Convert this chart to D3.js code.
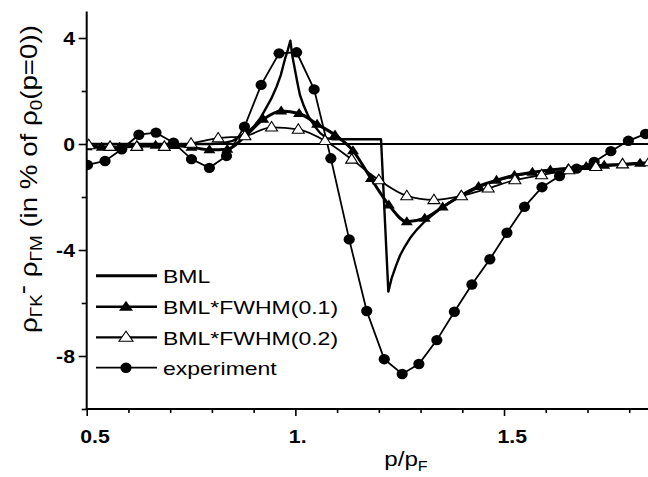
<!DOCTYPE html>
<html>
<head>
<meta charset="utf-8">
<script src="https://cdn.jsdelivr.net/npm/d3@7/dist/d3.min.js"></script>
<style>
  body { margin: 0; background: #fff; }
  svg { display: block; }
  text { font-family: "Liberation Sans", Arial, sans-serif; fill: #000; }
</style>
</head>
<body>
<svg id="chart" width="648" height="477"></svg>
<script>
// ---- data ----
const xTicksMajor = [0.5, 1.0, 1.5];
const xTickLabels = ["0.5", "1.", "1.5"];
const xTicksMinor = [0.6, 0.7, 0.8, 0.9, 1.1, 1.2, 1.3, 1.4, 1.6, 1.7, 1.8];
const yTicksMajor = [-8, -4, 0, 4];
const yTickLabels = ["-8", "-4", "0", "4"];
const yTicksMinor = [-10, -6, -2, 2];

const legendNames = ["BML", "BML*FWHM(0.1)", "BML*FWHM(0.2)", "experiment"];

// BML (no broadening)
const bmlX = [0.5, 0.7, 0.8, 0.827, 0.85, 0.867, 0.885, 0.9, 0.915, 0.927, 0.942, 0.955, 0.965, 0.975, 0.982, 0.988,
  0.993, 0.999, 1.005, 1.011, 1.02, 1.031, 1.045, 1.059, 1.075, 1.09, 1.2053, 1.2228, 1.231, 1.241, 1.251, 1.263,
  1.275, 1.29, 1.307, 1.327, 1.347, 1.37, 1.4, 1.44, 1.48, 1.53, 1.57, 1.61, 1.65, 1.7, 1.75, 1.8, 1.845];
const bmlY = [0, 0, 0, 0.03, 0.12, 0.28, 0.45, 0.65, 0.95, 1.28, 1.7, 2.16, 2.6, 3.2, 3.55, 3.9,
  3.3, 2.8, 2.3, 1.85, 1.45, 1.05, 0.7, 0.42, 0.22, 0.18, 0.18, -5.57, -5.05, -4.6, -4.2, -3.85,
  -3.55, -3.25, -2.97, -2.7, -2.45, -2.2, -1.95, -1.62, -1.38, -1.18, -1.07, -0.98, -0.92, -0.86, -0.81, -0.77, -0.73];

// BML convoluted with FWHM 0.1
const fw1X = [0.5, 0.536, 0.579, 0.622, 0.665, 0.708, 0.751, 0.794, 0.837, 0.88, 0.923, 0.966, 1.009, 1.052, 1.095,
  1.138, 1.181, 1.224, 1.267, 1.31, 1.353, 1.396, 1.439, 1.482, 1.525, 1.568, 1.611, 1.654, 1.697, 1.74, 1.783, 1.826];
const fw1Y = [-0.1, -0.12, -0.12, -0.08, -0.05, -0.06, -0.12, -0.22, -0.2, 0.3, 0.93, 1.25, 1.15, 0.75, 0.34,
  -0.25, -1.3, -2.3, -2.93, -2.8, -2.38, -1.95, -1.6, -1.37, -1.18, -1.07, -0.98, -0.92, -0.85, -0.8, -0.77, -0.73];

// BML convoluted with FWHM 0.2
const fw2X = [0.505, 0.556, 0.62, 0.686, 0.75, 0.815, 0.879, 0.943, 1.007, 1.071, 1.135, 1.2, 1.267, 1.332, 1.398,
  1.462, 1.526, 1.59, 1.655, 1.72, 1.784, 1.848];
const fw2Y = [-0.04, -0.1, -0.1, -0.1, 0.02, 0.22, 0.3, 0.63, 0.55, 0.12, -0.58, -1.36, -1.96, -2.11, -1.96,
  -1.67, -1.36, -1.17, -0.98, -0.86, -0.76, -0.68];

// measured data
const expX = [0.502, 0.544, 0.584, 0.625, 0.666, 0.708, 0.751, 0.794, 0.835, 0.878, 0.918, 0.961, 1.003, 1.045,
  1.085, 1.129, 1.171, 1.213, 1.256, 1.296, 1.339, 1.381, 1.423, 1.466, 1.507, 1.549, 1.591, 1.633, 1.674, 1.716,
  1.756, 1.798, 1.839];
const expY = [-0.79, -0.64, -0.2, 0.35, 0.43, 0.05, -0.57, -0.9, -0.45, 0.65, 2.23, 3.42, 3.46, 2.06,
  -0.54, -3.6, -6.3, -8.12, -8.68, -8.3, -7.4, -6.33, -5.3, -4.35, -3.35, -2.37, -1.63, -1.21, -0.93, -0.68,
  -0.27, 0.12, 0.38];

// ---- layout ----
const svg = d3.select("#chart");
const L = 86.7, R = 648, T = 11.5, B = 409;
const x = d3.scaleLinear().domain([0.5, 1.845]).range([L, R]);
const y = d3.scaleLinear().domain([-10, 5]).range([B, T]);
const SX = 1.28; // horizontal glyph stretch of the lettering

function label(g, tx, ty, str, opts = {}) {
  return g.append("text")
    .attr("transform", `translate(${tx},${ty}) scale(${opts.sx || SX},1)`)
    .attr("text-anchor", opts.anchor || "start")
    .attr("font-size", opts.size || 18)
    .attr("font-weight", opts.weight || "normal")
    .text(str);
}

svg.append("defs").append("clipPath").attr("id", "plotclip")
  .append("rect").attr("x", L).attr("y", T - 2).attr("width", R - L).attr("height", B - T + 2);

// zero reference line
svg.append("line").attr("x1", L).attr("x2", R).attr("y1", y(0)).attr("y2", y(0))
  .attr("stroke", "#000").attr("stroke-width", 2.2);

const plot = svg.append("g").attr("clip-path", "url(#plotclip)");

const zip = (xs, ys) => xs.map((v, i) => [v, ys[i]]);
const lin = d3.line().x(d => x(d[0])).y(d => y(d[1]));
const smooth = d3.line().x(d => x(d[0])).y(d => y(d[1])).curve(d3.curveMonotoneX);

const bml = zip(bmlX, bmlY), fw1 = zip(fw1X, fw1Y), fw2 = zip(fw2X, fw2Y), exp = zip(expX, expY);

const triUp = (cx, cy, w, h) => `M${cx - w / 2},${cy + h / 2}L${cx + w / 2},${cy + h / 2}L${cx},${cy - h / 2}Z`;

// experiment
plot.append("path").attr("d", lin(exp)).attr("fill", "none").attr("stroke", "#000").attr("stroke-width", 1.8);
plot.selectAll(".expm").data(exp).join("ellipse")
  .attr("cx", d => x(d[0])).attr("cy", d => y(d[1])).attr("rx", 5.6).attr("ry", 5.2).attr("fill", "#000");

// FWHM 0.2 (open triangles)
plot.append("path").attr("d", smooth(fw2)).attr("fill", "none").attr("stroke", "#000").attr("stroke-width", 1.8);

// FWHM 0.1 (filled triangles)
plot.append("path").attr("d", smooth(fw1)).attr("fill", "none").attr("stroke", "#000").attr("stroke-width", 3);
plot.selectAll(".fw1m").data(fw1).join("path")
  .attr("d", d => triUp(x(d[0]), y(d[1]) - 1, 12, 9)).attr("fill", "#000");

// BML
plot.append("path").attr("d", lin(bml)).attr("fill", "none").attr("stroke", "#000").attr("stroke-width", 2.4)
  .attr("stroke-linejoin", "round");

plot.selectAll(".fw2m").data(fw2).join("path")
  .attr("d", d => triUp(x(d[0]), y(d[1]) - 1, 12, 9.5)).attr("fill", "#fff").attr("stroke", "#000").attr("stroke-width", 1.1);

// ---- axes ----
const axes = svg.append("g");
axes.append("line").attr("x1", L).attr("x2", L).attr("y1", T).attr("y2", B + 1).attr("stroke", "#000").attr("stroke-width", 2);
axes.append("line").attr("x1", L - 1).attr("x2", R).attr("y1", B).attr("y2", B).attr("stroke", "#000").attr("stroke-width", 2);

const xAxisMajor = d3.axisBottom(x).tickValues(xTicksMajor).tickSize(7).tickFormat("");
const xAxisMinor = d3.axisBottom(x).tickValues(xTicksMinor).tickSize(4).tickFormat("");
const yAxisMajor = d3.axisLeft(y).tickValues(yTicksMajor).tickSize(8).tickFormat("");
const yAxisMinor = d3.axisLeft(y).tickValues(yTicksMinor).tickSize(5).tickFormat("");
[[xAxisMajor, `translate(0,${B})`], [xAxisMinor, `translate(0,${B})`],
 [yAxisMajor, `translate(${L},0)`], [yAxisMinor, `translate(${L},0)`]].forEach(([ax, tr]) => {
  const g = axes.append("g").attr("transform", tr).call(ax);
  g.select(".domain").remove();
  g.selectAll(".tick line").attr("stroke", "#000").attr("stroke-width", 1.6);
});

xTicksMajor.forEach((v, i) => label(axes, x(v) - 6.5, 443, xTickLabels[i], { weight: "bold", size: 18, sx: 1.18 }));
yTicksMajor.forEach((v, i) => label(axes, 75, y(v) + 7, yTickLabels[i], { weight: "bold", size: 18, anchor: "end", sx: 1.18 }));

// x title
const xt = svg.append("text").attr("transform", `translate(406,466) scale(1.15,1)`)
  .attr("text-anchor", "middle").attr("font-size", 21);
xt.append("tspan").text("p/p");
xt.append("tspan").attr("font-size", 14).attr("dy", 5).text("F");

// y title
const yt = svg.append("text").attr("text-anchor", "middle").attr("font-size", 22);
yt.append("tspan").text("ρ");
yt.append("tspan").attr("font-size", 15).attr("dy", 5).text("ΓK");
yt.append("tspan").attr("dy", -11).text("-");
yt.append("tspan").attr("dy", 6).text(" ρ");
yt.append("tspan").attr("font-size", 15).attr("dy", 5).text("ΓM");
yt.append("tspan").attr("dy", -5).text(" (in % of ρ");
yt.append("tspan").attr("font-size", 15).attr("dy", 5).text("0");
yt.append("tspan").attr("dy", -5).text("(p=0))");
const ylen = yt.node().getComputedTextLength();
yt.attr("transform", `translate(36.5,179) rotate(-90) scale(${308 / ylen},1.05)`);

// ---- legend ----
const legY = [275.7, 306.7, 337.3, 367.7];
const legW = [3, 2.6, 2.2, 1.7];
const lg = svg.append("g");
legendNames.forEach((name, i) => {
  lg.append("line").attr("x1", 96).attr("x2", 157).attr("y1", legY[i]).attr("y2", legY[i])
    .attr("stroke", "#000").attr("stroke-width", legW[i]);
  label(lg, 163, legY[i] + 7.6, name, { size: 17.7, sx: 1.3 });
});
lg.append("path").attr("d", triUp(126, legY[1] - 1, 14, 10)).attr("fill", "#000");
lg.append("path").attr("d", triUp(126, legY[2] - 1, 14, 10)).attr("fill", "#fff").attr("stroke", "#000").attr("stroke-width", 1.1);
lg.append("ellipse").attr("cx", 126).attr("cy", legY[3]).attr("rx", 5.6).attr("ry", 5.2).attr("fill", "#000");
</script>
</body>
</html>
